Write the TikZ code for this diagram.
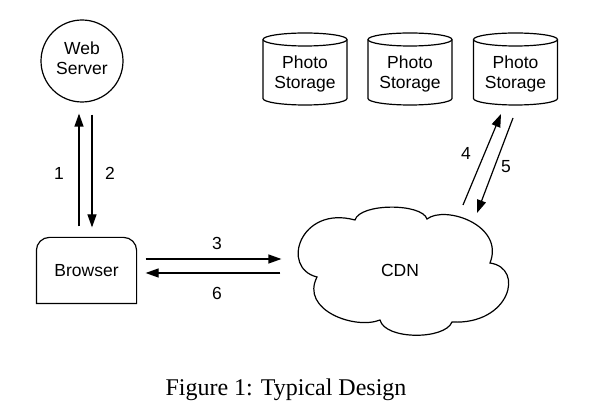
\documentclass[tikz,border=0pt]{standalone}
\usepackage{fontspec}
\setmainfont{Liberation Sans}
\newfontfamily\capfont{Liberation Serif}
\usetikzlibrary{arrows.meta,calc}
\begin{document}
\begin{tikzpicture}[x=1pt,y=1pt,line width=1.2pt,
  lbl/.style={font=\fontsize{17.5}{20}\selectfont, inner sep=0pt, align=center},
  arr/.style={-{Triangle[length=13pt,width=9pt]}},
  outline/.style={draw=black, line width=1.2pt}]
\useasboundingbox (0,0) rectangle (598,410);
% nodes
\node[circle, draw, minimum size=82pt, inner sep=0pt] (web) at (82,349) {};
\node[lbl] (webtext) at (82,352) {Web\\Server};
\node[lbl, minimum width=99pt, minimum height=65pt] (browser) at (86.5,139.5) {Browser};
\node[lbl, minimum width=213pt, minimum height=126pt] (cdn) at (402.5,145) {};
\node[lbl] (cdntext) at (400,140) {CDN};
\foreach \n/\cx in {s1/305, s2/410, s3/515.5}{
  \node[lbl] (\n) at (\cx,336.5) {Photo\\Storage};
  \draw[outline] (\cx-42,370.5) -- (\cx-42,311.5) arc (180:360:42 and 6.5) -- (\cx+42,370.5) arc (0:180:42 and 6.5) -- cycle;
  \draw[outline] (\cx-42,370.5) arc (180:360:42 and 6.5);
}
% browser outline
\draw[outline] (browser.south west) [rounded corners=13pt] -- (browser.north west) -- (browser.north east) [sharp corners] -- (browser.south east) -- cycle;
% cloud
\draw[outline] (317,133) .. controls (280,142) and (300,205) .. (355,190)
  .. controls (360,207) and (422,207) .. (427,191)
  .. controls (445,205) and (505,185) .. (490,147)
  .. controls (525,142) and (510,85) .. (452,88)
  .. controls (445,70) and (385,70) .. (380,90)
  .. controls (355,80) and (300,100) .. cycle;
% arrows 1 and 2
\draw[arr, shorten <=11pt, shorten >=11pt] ([xshift=-7.5pt]browser.north) -- ([xshift=-7.5pt]browser.north |- web.south);
\draw[arr, shorten <=12pt, shorten >=10pt] ([xshift=5.5pt]browser.north |- web.south) -- ([xshift=5.5pt]browser.north);
\node[lbl] (l1) at (59,237) {1};
\node[lbl] (l2) at (110,237) {2};
% arrows 3 and 6
\draw[arr, shorten <=9pt, shorten >=14pt] ([yshift=11.5pt]browser.east) -- ([yshift=11.5pt]browser.east -| cdn.west);
\draw[arr, shorten <=15pt, shorten >=9pt] ([yshift=-2.5pt]browser.east -| cdn.west) -- ([yshift=-2.5pt]browser.east);
\node[lbl] (l3) at (217,167) {3};
\node[lbl] (l6) at (217,117) {6};
% arrows 4 and 5
\coordinate (a4s) at (463,205);
\coordinate (a4e) at (501,296);
\coordinate (a5s) at (513,292);
\coordinate (a5e) at (477,197);
\draw[arr] (a4s) -- (a4e);
\draw[arr] (a5s) -- (a5e);
\node[lbl] (l4) at (466,257) {4};
\node[lbl] (l5) at (506,243) {5};
% caption
\node[font=\capfont\fontsize{24}{28}\selectfont, inner sep=0pt] (cap) at (286,20) {Figure 1: Typical Design};
\end{tikzpicture}
\end{document}
